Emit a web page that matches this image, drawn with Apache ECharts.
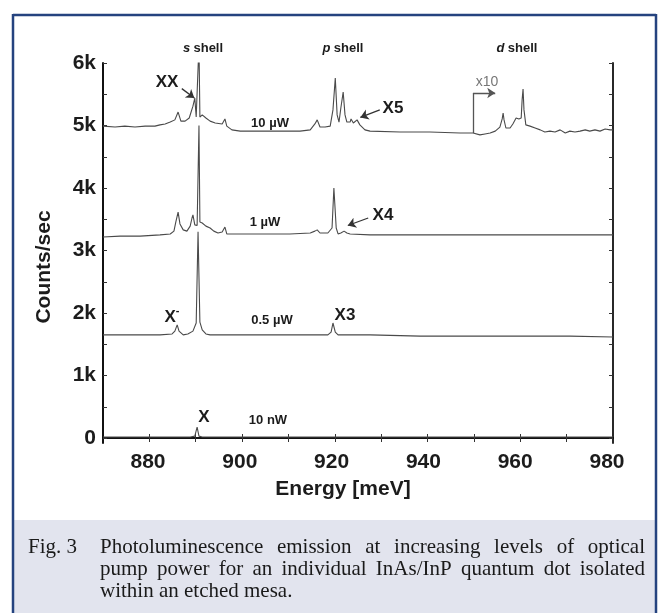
<!DOCTYPE html>
<html><head><meta charset="utf-8">
<script src="https://cdn.jsdelivr.net/npm/echarts@6/dist/echarts.min.js"></script>
<style>html,body{margin:0;padding:0;background:#fff}#c{width:659px;height:613px}</style>
</head><body><div id="c"></div>
<script>
// ---- tick values ----
const xLabelValues = [880, 900, 920, 940, 960, 980];
const xMinorTicks = [880, 890, 900, 910, 920, 930, 940, 950, 960, 970];
const yLabelValues = [0, 1000, 2000, 3000, 4000, 5000, 6000];
const yTickValues = [0, 500, 1000, 1500, 2000, 2500, 3000, 3500, 4000, 4500, 5000, 5500, 6000];

// ---- 10 uW spectrum ----
const energy10uW = [870.0,872.6,874.7,876.9,879.1,881.2,882.3,883.4,884.5,885.5,886.2,886.8,887.7,888.6,889.0,889.4,889.8,890.1,890.5,890.7,890.9,891.4,892.2,893.1,894.2,895.7,896.3,896.7,897.8,899.6,903.9,908.2,912.5,914.7,915.7,916.2,916.8,917.9,919.0,919.6,920.1,920.5,920.9,921.3,921.8,922.2,922.6,923.3,923.5,924.0,924.4,924.8,925.4,926.5,927.6,934.1,940.5,947.0,949.8,950.2,951.3,952.4,953.5,954.6,955.6,956.1,956.3,956.5,956.9,957.8,958.4,959.1,959.7,960.2,960.4,960.6,960.8,961.2,962.1,963.2,964.3,965.3,966.4,967.5,968.6,969.7,970.7,971.8,972.9,974.0,975.0,976.1,977.2,978.3,979.4,980.0];
const counts10uW = [4990,4975,4990,4975,4990,4990,5010,5025,5055,5090,5215,5070,5070,5120,5150,5310,5440,5135,5135,6300,5135,5170,5120,5070,5040,5025,5105,4990,4930,4910,4910,4910,4910,4930,5025,5090,4975,4975,4990,5250,5760,5170,5055,5280,5535,5170,5055,5055,5105,5040,5070,5090,5010,4930,4910,4895,4895,4880,4880,4865,4850,4865,4880,4910,4975,5105,5200,5090,4960,4960,5025,5120,5105,5120,5410,5585,5250,5010,4990,4960,4930,4895,4910,4895,4930,4880,4910,4895,4910,4930,4910,4930,4910,4945,4930,4930];

// ---- 1 uW spectrum ----
const energy1uW = [870.0,873.7,878.0,882.3,884.5,885.3,885.7,886.2,886.6,887.3,888.1,888.8,889.2,889.4,889.8,890.3,890.7,890.9,891.4,892.2,893.1,893.9,894.8,895.7,896.3,896.7,897.8,901.7,906.0,910.3,914.7,915.7,916.2,916.8,918.5,919.4,919.8,920.3,920.7,921.3,922.0,922.2,922.6,923.3,927.6,934.1,940.5,947.0,953.5,960.0,966.4,972.9,980.0];
const counts1uW = [3215,3230,3230,3250,3265,3310,3455,3615,3425,3330,3310,3390,3520,3570,3410,3400,5000,3455,3440,3390,3360,3310,3280,3295,3375,3265,3265,3265,3265,3265,3280,3310,3330,3280,3280,3360,4000,3360,3265,3280,3310,3330,3280,3265,3250,3250,3250,3250,3250,3250,3250,3250,3250];

// ---- 0.5 uW spectrum ----
const energy05uW = [870.0,875.8,882.3,884.9,885.5,886.0,886.4,887.3,888.3,889.4,890.1,890.5,890.9,891.4,892.2,893.1,899.6,908.2,914.7,918.5,919.2,919.6,920.1,920.7,927.6,938.4,949.2,960.0,970.7,980.0];
const counts05uW = [1650,1650,1650,1665,1710,1810,1710,1650,1665,1710,1840,3300,1855,1730,1665,1650,1650,1650,1650,1650,1695,1840,1695,1650,1650,1630,1630,1630,1630,1615];

// ---- 10 nW spectrum ----
const energy10nW = [870.0,880.1,888.8,889.8,890.3,890.7,891.4,901.7,912.5,934.1,955.6,980.0];
const counts10nW = [16,16,16,30,175,30,16,16,16,16,16,16];

// ---- annotation arrows (data coordinates, [from, to]) ----
const arrowXX = [[887.0, 5590], [889.7, 5440]];
const arrowX5 = [[929.7, 5250], [925.5, 5130]];
const arrowX4 = [[927.2, 3520], [922.8, 3400]];
const x10Stem = [[949.8, 4880], [949.8, 5520]];
const x10Arrow = [[949.8, 5520], [954.6, 5520]];

const zip = (a, b) => a.map((v, i) => [v, b[i]]);
const lineColor = '#4a4a4a';
const traces = [
  ['10 µW', energy10uW, counts10uW],
  ['1 µW', energy1uW, counts1uW],
  ['0.5 µW', energy05uW, counts05uW],
  ['10 nW', energy10nW, counts10nW]
];

const chart = echarts.init(document.getElementById('c'), null, {renderer: 'canvas'});
const F = '"Liberation Sans", Arial, sans-serif';

const series = traces.map(t => ({
  name: t[0], type: 'line', xAxisIndex: 0, yAxisIndex: 0,
  data: zip(t[1], t[2]), showSymbol: false, symbol: 'none', clip: true,
  lineStyle: {color: lineColor, width: 1.1}, animation: false, silent: true
}));
function arrowSeries(segs, color, withArrow) {
  return {
    type: 'lines', coordinateSystem: 'cartesian2d', xAxisIndex: 0, yAxisIndex: 0,
    polyline: false, silent: true, animation: false,
    symbol: withArrow ? ['none', 'arrow'] : ['none', 'none'], symbolSize: [0, 8],
    lineStyle: {color: color, width: 1.3, opacity: 1, curveness: 0},
    data: segs.map(s => ({coords: s}))
  };
}
series.push(arrowSeries([arrowXX, arrowX5, arrowX4], '#333', true));
series.push(arrowSeries([x10Stem], '#555', false));
series.push(arrowSeries([x10Arrow], '#555', true));

// caption justification
const ctx = document.createElement('canvas').getContext('2d');
const capFont = '21px "Liberation Serif"';
ctx.font = capFont;
function justified(text, x0, x1, y, justify) {
  const words = text.split(' ');
  const ws = words.map(w => ctx.measureText(w).width);
  const total = ws.reduce((a, b) => a + b, 0);
  const gap = justify ? (x1 - x0 - total) / (words.length - 1) : ctx.measureText(' ').width;
  let x = x0; const out = [];
  words.forEach((w, i) => {
    out.push({type: 'text', x: x, y: y, style: {text: w, font: capFont, fill: '#1a1a1a', textVerticalAlign: 'middle'}, silent: true});
    x += ws[i] + gap;
  });
  return out;
}

const T = (text, x, y, size, opts) => Object.assign({
  type: 'text', x: x, y: y, silent: true,
  style: Object.assign({text: text, font: 'bold ' + size + 'px ' + F, fill: '#1c1c1c', textAlign: 'center', textVerticalAlign: 'middle'}, (opts || {}))
});
const shell = (letter, x) => ({type: 'text', x: x, y: 48, silent: true, style: {text: '{i|' + letter + '} {b|shell}', textAlign: 'center', textVerticalAlign: 'middle', rich: {i: {font: 'italic bold 13px ' + F, fill: '#1c1c1c'}, b: {font: 'bold 13px ' + F, fill: '#1c1c1c'}}}});

const graphics = [
  {type: 'rect', shape: {x: 13, y: 520, width: 643, height: 93}, style: {fill: '#e2e4ee'}, silent: true, z: -10},
  {type: 'line', shape: {x1: 13, y1: 15, x2: 656, y2: 15}, style: {stroke: '#25437f', lineWidth: 2.5}, silent: true},
  {type: 'line', shape: {x1: 13, y1: 14, x2: 13, y2: 613}, style: {stroke: '#25437f', lineWidth: 2.5}, silent: true},
  {type: 'line', shape: {x1: 656, y1: 14, x2: 656, y2: 613}, style: {stroke: '#25437f', lineWidth: 2.5}, silent: true},
  shell('s', 203), shell('p', 343), shell('d', 517),
  T('XX', 167, 82, 17),
  T('X5', 393, 108, 17),
  T('X4', 383, 215, 17),
  T('X3', 345, 315, 17),
  {type: 'text', x: 172, y: 317, silent: true, style: {text: '{a|X}{b|-}', textAlign: 'center', textVerticalAlign: 'middle', rich: {a: {font: 'bold 17px ' + F, fill: '#1c1c1c'}, b: {font: 'bold 11px ' + F, fill: '#1c1c1c', padding: [0, 0, 12, 0]}}}},
  T('X', 204, 417, 17),
  T('10 µW', 270, 123, 13),
  T('1 µW', 265, 222, 13),
  T('0.5 µW', 272, 320, 13),
  T('10 nW', 268, 420, 13),
  T('x10', 487, 82, 14, {font: '14px ' + F, fill: '#777'}),
  T('Energy [meV]', 343, 489, 21),
  {type: 'text', x: 44, y: 267, rotation: Math.PI / 2, silent: true, style: {text: 'Counts/sec', font: 'bold 21px ' + F, fill: '#1c1c1c', textAlign: 'center', textVerticalAlign: 'middle'}},
  {type: 'text', x: 28, y: 547, silent: true, style: {text: 'Fig. 3', font: capFont, fill: '#1a1a1a', textVerticalAlign: 'middle'}}
].concat(
  justified('Photoluminescence emission at increasing levels of optical', 100, 645, 547, true),
  justified('pump power for an individual InAs/InP quantum dot isolated', 100, 645, 569, true),
  justified('within an etched mesa.', 100, 645, 591, false)
);

const axisLine = w => ({show: true, lineStyle: {color: '#111', width: w}});
const option = {
  animation: false,
  backgroundColor: '#ffffff',
  grid: [
    {left: 103, right: 46, top: 63, bottom: 170},
    {left: 148, right: 52, top: 63, bottom: 170}
  ],
  xAxis: [
    {type: 'value', gridIndex: 0, position: 'bottom', min: 870, max: 980,
     axisLine: axisLine(2), splitLine: {show: false}, axisLabel: {show: false},
     axisTick: {show: true, inside: true, length: 4, customValues: xMinorTicks, lineStyle: {color: '#333', width: 1}}},
    {type: 'value', gridIndex: 0, position: 'top', min: 870, max: 980,
     axisLine: axisLine(1.8), splitLine: {show: false}, axisLabel: {show: false},
     axisTick: {show: true, inside: true, length: 4, customValues: xMinorTicks, lineStyle: {color: '#333', width: 1}}},
    {type: 'value', gridIndex: 1, position: 'bottom', min: 880, max: 980,
     axisLine: {show: false}, axisTick: {show: false}, splitLine: {show: false},
     axisLabel: {show: true, customValues: xLabelValues, margin: 9, color: '#1c1c1c', fontFamily: F, fontWeight: 'bold', fontSize: 21}}
  ],
  yAxis: [
    {type: 'value', gridIndex: 0, position: 'left', min: -80, max: 6000,
     axisLine: axisLine(2), splitLine: {show: false},
     axisTick: {show: true, inside: true, length: 4, customValues: yTickValues, lineStyle: {color: '#333', width: 1}},
     axisLabel: {show: true, customValues: yLabelValues, margin: 7, color: '#1c1c1c', fontFamily: F, fontWeight: 'bold', fontSize: 21,
       formatter: v => v === 0 ? '0' : (v / 1000) + 'k'}},
    {type: 'value', gridIndex: 0, position: 'right', min: -80, max: 6000,
     axisLine: axisLine(1.8), splitLine: {show: false}, axisLabel: {show: false},
     axisTick: {show: true, inside: true, length: 4, customValues: yTickValues, lineStyle: {color: '#333', width: 1}}},
    {type: 'value', gridIndex: 1, show: false, min: 0, max: 6000}
  ],
  series: series,
  graphic: graphics
};
chart.setOption(option);
</script>
</body></html>
